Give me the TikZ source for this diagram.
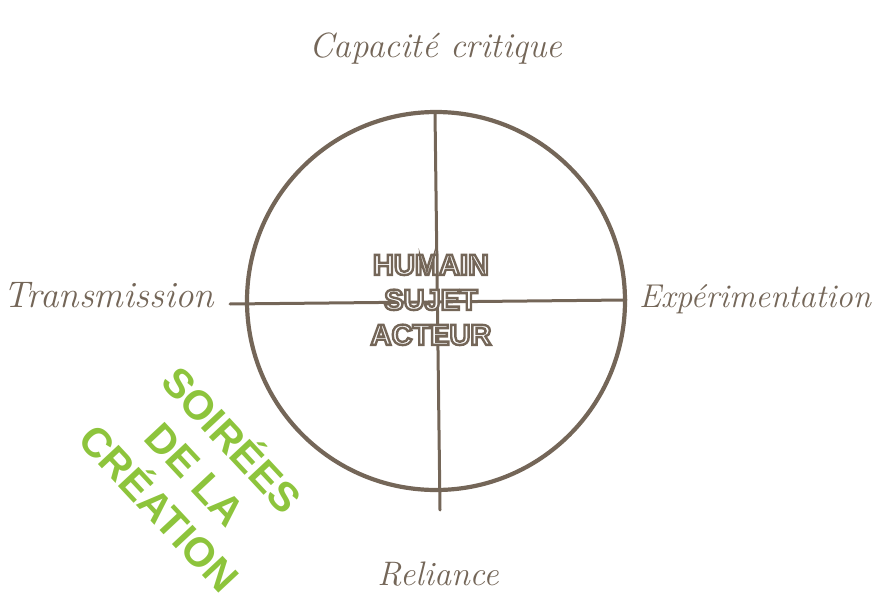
\documentclass[tikz,border=0pt]{standalone}
\usepackage{fontspec}
\newfontfamily\heavysans{Liberation Sans}[BoldFont=* Bold]
\definecolor{earth}{RGB}{116,102,88}
\definecolor{leaf}{RGB}{141,196,60}
\newcommand\outlinedtext[1]{\special{pdf:literal direct 2 Tr 2.4 w 0.455 0.4 0.345 RG 1 1 1 rg}#1\special{pdf:literal direct 0 Tr}}
\begin{document}
\begin{tikzpicture}[x=1pt,y=-1pt,
  hand/.style={font=\fontsize{#1}{36}\selectfont\itshape, text=earth, anchor=base, inner sep=0pt},
  stroke/.style={draw=earth, line width=3pt, line cap=round}]
\useasboundingbox (0,0) rectangle (873,594);
\node[circle, minimum size=378pt, inner sep=0pt, draw=earth, line width=4.2pt] (ring) at (436,301) {};
\coordinate (top) at (435,112);
\coordinate (bot) at (440,510);
\coordinate (lft) at (230,304);
\coordinate (rgt) at (626,300);
\draw[stroke] (top) -- (bot);
\draw[stroke] (lft) -- (rgt);
\node[text=white, font=\heavysans\bfseries\fontsize{29}{35}\selectfont, align=center, inner sep=0pt] (core) at (431,300)
  {\outlinedtext{HUMAIN}\\\outlinedtext{SUJET}\\\outlinedtext{ACTEUR}};
\node[hand=35] (capa) at (436,58) {Capacité critique};
\node[hand=37] (trans) at (109,307) {Transmission};
\node[hand=33] (expe) at (755,307) {Expérimentation};
\node[hand=34] (reli) at (438,585) {Reliance};
\node[text=leaf, font=\heavysans\bfseries\fontsize{41}{50}\selectfont, align=center, rotate=-47, inner sep=0pt] (soirees) at (198,472)
  {SOIRÉES\\DE LA\\CRÉATION};
\end{tikzpicture}
\end{document}
